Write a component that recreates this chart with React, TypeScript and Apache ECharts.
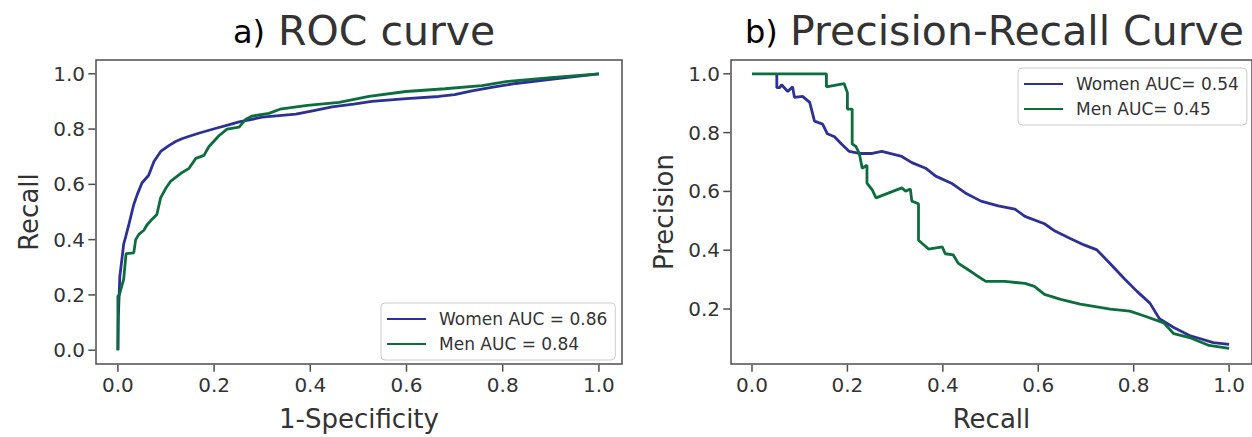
import React, { useEffect, useRef } from "react";
import * as echarts from "echarts";

const tickValues = [0, 0.2, 0.4, 0.6, 0.8, 1.0];
const prYTicks = [0.2, 0.4, 0.6, 0.8, 1.0];

const rocNames = ["Women AUC = 0.86", "Men AUC = 0.84"];
const prNames = ["Women AUC= 0.54", "Men AUC= 0.45"];

const rocWomen = [
  [0, 0], [0.001, 0.12], [0.004, 0.267], [0.009, 0.338], [0.012, 0.384], [0.016, 0.409],
  [0.023, 0.456], [0.033, 0.527], [0.04, 0.562], [0.05, 0.605], [0.064, 0.633], [0.075, 0.683],
  [0.089, 0.719], [0.106, 0.74], [0.12, 0.755], [0.133, 0.765], [0.15, 0.775], [0.168, 0.785],
  [0.204, 0.803], [0.23, 0.815], [0.252, 0.826], [0.3, 0.843], [0.37, 0.854], [0.41, 0.868],
  [0.445, 0.88], [0.49, 0.89], [0.528, 0.9], [0.6, 0.91], [0.667, 0.918], [0.7, 0.925],
  [0.736, 0.938], [0.78, 0.952], [0.827, 0.965], [0.9, 0.98], [1, 1],
];

const rocMen = [
  [0, 0], [0, 0.196], [0.003, 0.2], [0.012, 0.256], [0.017, 0.349], [0.033, 0.352],
  [0.037, 0.4], [0.044, 0.42], [0.054, 0.434], [0.06, 0.452], [0.069, 0.47], [0.081, 0.491],
  [0.089, 0.552], [0.1, 0.587], [0.11, 0.612], [0.131, 0.64], [0.148, 0.658], [0.162, 0.694],
  [0.179, 0.705], [0.189, 0.736], [0.21, 0.776], [0.227, 0.8], [0.252, 0.807], [0.266, 0.836],
  [0.279, 0.847], [0.314, 0.857], [0.337, 0.872], [0.394, 0.886], [0.46, 0.897], [0.522, 0.918],
  [0.599, 0.936], [0.68, 0.946], [0.757, 0.957], [0.807, 0.972], [0.9, 0.986], [1, 1],
];

const prWomen = [
  [0.052, 1.0], [0.052, 0.953], [0.058, 0.953], [0.062, 0.963], [0.075, 0.94], [0.085, 0.956],
  [0.089, 0.92], [0.106, 0.923], [0.121, 0.903], [0.131, 0.839], [0.148, 0.829], [0.158, 0.796],
  [0.173, 0.786], [0.187, 0.762], [0.204, 0.736], [0.225, 0.729], [0.252, 0.729], [0.272, 0.736],
  [0.314, 0.719], [0.335, 0.698], [0.364, 0.679], [0.385, 0.652], [0.418, 0.628], [0.447, 0.595],
  [0.48, 0.567], [0.516, 0.551], [0.551, 0.54], [0.572, 0.515], [0.613, 0.49], [0.635, 0.465],
  [0.667, 0.44], [0.696, 0.418], [0.723, 0.401], [0.751, 0.354], [0.78, 0.304], [0.807, 0.26],
  [0.834, 0.22], [0.854, 0.167], [0.884, 0.137], [0.917, 0.11], [0.967, 0.086], [1.0, 0.08],
];

const prMen = [
  [0, 1], [0.156, 1], [0.156, 0.956], [0.193, 0.967], [0.2, 0.936], [0.2, 0.88], [0.21, 0.88],
  [0.21, 0.762], [0.218, 0.752], [0.225, 0.729], [0.231, 0.679], [0.241, 0.689], [0.241, 0.628],
  [0.252, 0.605], [0.26, 0.578], [0.287, 0.595], [0.314, 0.612], [0.322, 0.601], [0.332, 0.608],
  [0.335, 0.567], [0.349, 0.558], [0.349, 0.434], [0.37, 0.404], [0.399, 0.411], [0.405, 0.388],
  [0.422, 0.384], [0.432, 0.356], [0.45, 0.337], [0.47, 0.315], [0.49, 0.294], [0.53, 0.294],
  [0.572, 0.287], [0.592, 0.277], [0.613, 0.25], [0.647, 0.233], [0.688, 0.217], [0.751, 0.2],
  [0.792, 0.193], [0.821, 0.177], [0.863, 0.153], [0.884, 0.116], [0.917, 0.103], [0.958, 0.076],
  [1.0, 0.066],
];

const BLUE = "#2d3194";
const GREEN = "#0c6e3d";
const FONT = "DejaVu Sans";
const TXT = "#333333";
const FRAME = "#4d4d4d";

const ROC_X = [-0.0455, 1.048];
const ROC_Y = [-0.05, 1.05];
const PR_X = [-0.044, 1.048];
const PR_Y = [0.013, 1.047];

function axisCommon(ticks: number[]) {
  return {
    type: "value",
    axisLine: { show: false, onZero: false },
    splitLine: { show: false },
    axisTick: { show: false },
    axisLabel: {
      customValues: ticks,
      formatter: (v: number) => v.toFixed(1),
      fontSize: 20,
      fontFamily: FONT,
      color: TXT,
      margin: 11,
    },
    nameLocation: "middle",
    nameTextStyle: { fontSize: 26, fontFamily: FONT, color: TXT },
  };
}

function tickSeries(gi: number, points: number[][], horizontal: boolean) {
  return {
    type: "scatter",
    xAxisIndex: gi,
    yAxisIndex: gi,
    silent: true,
    clip: false,
    symbol: "rect",
    symbolSize: horizontal ? [7, 1.5] : [1.5, 7],
    symbolOffset: horizontal ? [-4.2, 0] : [0, 4.2],
    itemStyle: { color: FRAME, opacity: 1 },
    data: points,
    z: 10,
  };
}

export default function App() {
  const ref = useRef<HTMLDivElement>(null);
  useEffect(() => {
    if (!ref.current) return;
    const chart = echarts.init(ref.current, null, { renderer: "svg" });
    const legendCommon = {
      orient: "vertical",
      itemWidth: 39,
      itemHeight: 14,
      itemGap: 5,
      borderColor: "#cccccc",
      borderWidth: 1,
      borderRadius: 4,
      backgroundColor: "rgba(255,255,255,0.85)",
      itemStyle: { color: "rgba(0,0,0,0)", borderColor: "rgba(0,0,0,0)", borderWidth: 0, opacity: 0 },
      textStyle: { fontSize: 17, fontFamily: FONT, color: TXT, padding: [0, 0, 0, 8], lineHeight: 20 },
      selectedMode: false,
    };
    chart.setOption({
      animation: false,
      backgroundColor: "#ffffff",
      graphic: [
        { type: "text", left: 233, top: 16, style: { text: "a)", fontSize: 32, fontFamily: FONT, fill: "#000" } },
        { type: "text", left: 278, top: 10, style: { text: "ROC curve", fontSize: 41, fontFamily: FONT, fill: TXT } },
        { type: "text", left: 745, top: 16, style: { text: "b)", fontSize: 32, fontFamily: FONT, fill: "#000" } },
        { type: "text", left: 790, top: 10, style: { text: "Precision-Recall Curve", fontSize: 41, fontFamily: FONT, fill: TXT } },
      ],
      grid: [
        { left: 96, top: 60, width: 526, height: 309, show: true, borderColor: FRAME, borderWidth: 1.5, backgroundColor: "transparent" },
        { left: 731, top: 60, width: 525, height: 309, show: true, borderColor: FRAME, borderWidth: 1.5, backgroundColor: "transparent" },
      ],
      xAxis: [
        { ...axisCommon(tickValues), gridIndex: 0, min: ROC_X[0], max: ROC_X[1], name: "1-Specificity", nameGap: 42 },
        { ...axisCommon(tickValues), gridIndex: 1, min: PR_X[0], max: PR_X[1], name: "Recall", nameGap: 42 },
      ],
      yAxis: [
        { ...axisCommon(tickValues), gridIndex: 0, min: ROC_Y[0], max: ROC_Y[1], name: "Recall", nameGap: 54 },
        { ...axisCommon(prYTicks), gridIndex: 1, min: PR_Y[0], max: PR_Y[1], name: "Precision", nameGap: 54 },
      ],
      legend: [
        { ...legendCommon, data: rocNames, left: 381, top: 303, padding: [6, 8, 6, 5] },
        { ...legendCommon, data: prNames, left: 1018, top: 68, padding: [6, 8, 6, 5] },
      ],
      series: [
        tickSeries(0, tickValues.map((t) => [t, ROC_Y[0]]), false),
        tickSeries(0, tickValues.map((t) => [ROC_X[0], t]), true),
        tickSeries(1, tickValues.map((t) => [t, PR_Y[0]]), false),
        tickSeries(1, prYTicks.map((t) => [PR_X[0], t]), true),
        { name: rocNames[0], type: "line", xAxisIndex: 0, yAxisIndex: 0, data: rocWomen, symbol: "none", lineStyle: { color: BLUE, width: 2.8 }, itemStyle: { color: BLUE } },
        { name: rocNames[1], type: "line", xAxisIndex: 0, yAxisIndex: 0, data: rocMen, symbol: "none", lineStyle: { color: GREEN, width: 2.8 }, itemStyle: { color: GREEN } },
        { name: prNames[0], type: "line", xAxisIndex: 1, yAxisIndex: 1, data: prWomen, symbol: "none", lineStyle: { color: BLUE, width: 2.8 }, itemStyle: { color: BLUE } },
        { name: prNames[1], type: "line", xAxisIndex: 1, yAxisIndex: 1, data: prMen, symbol: "none", lineStyle: { color: GREEN, width: 2.8 }, itemStyle: { color: GREEN } },
      ],
    });
    return () => chart.dispose();
  }, []);
  return (
    <div
      ref={ref}
      style={{ position: "absolute", left: 0, top: 0, width: 1252, height: 437, background: "#fff" }}
    />
  );
}
